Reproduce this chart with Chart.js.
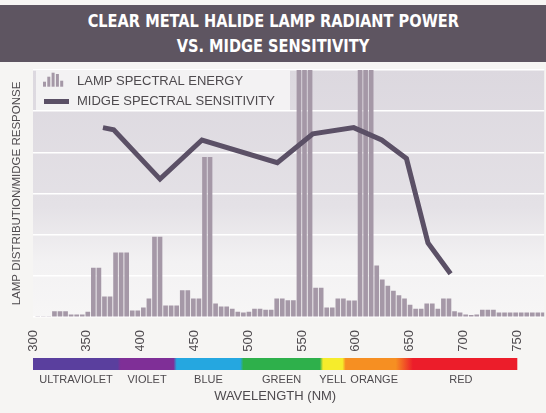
<!DOCTYPE html>
<html>
<head>
<meta charset="utf-8">
<script src="https://cdn.jsdelivr.net/npm/chart.js@4.4.1/dist/chart.umd.min.js"></script>
<style>
  html, body { margin: 0; padding: 0; background: #f6f5f3; }
  body { width: 546px; height: 413px; position: relative; overflow: hidden; }
  .banner {
    position: absolute; left: 0; top: 5px; width: 546px; height: 57px;
    background: #5e5561; color: #fff; text-align: center;
    font-family: 'DejaVu Sans Condensed', 'Liberation Sans Narrow', sans-serif;
    font-weight: bold; font-size: 18px; line-height: 25px;
    padding-top: 3px; box-sizing: border-box;
  }
  .banner span { display: inline-block; transform: scaleX(0.9); white-space: nowrap; }
  .wrap { position: absolute; left: 0; top: 62px; width: 546px; height: 351px; }
</style>
</head>
<body>
<div class="banner"><span>CLEAR METAL HALIDE LAMP RADIANT POWER</span><br><span>VS. MIDGE SENSITIVITY</span></div>
<div class="wrap"><canvas id="spectrumChart"></canvas></div>
<script>
// lamp output, one bar per 5 nm bin starting at 300 nm
const BIN_NM = Array.from({ length: 92 }, (_, i) => 300 + 5 * i);
const LAMP_ENERGY = [
  0, 0, 0, 1.3, 1.3, 1.3, 0.5, 0.5, 0.5, 1.2,
  11.9, 11.9, 4.9, 4.9, 15.6, 15.6, 15.6, 1.5, 1.5, 2.2,
  4.4, 19.4, 19.4, 2.7, 2.7, 2.7, 6.4, 6.4, 4.4, 4.4,
  38.8, 38.8, 3.2, 2.5, 2.5, 1.9, 1.2, 1.0, 1.2, 1.9,
  1.9, 1.7, 1.7, 4.4, 4.4, 4.0, 4.0, 75, 75, 75,
  7.0, 7.0, 2.2, 2.2, 4.4, 4.4, 3.9, 3.9, 75, 75,
  75, 12.4, 9.0, 7.5, 6.3, 5.2, 4.4, 2.9, 1.9, 1.9,
  3.2, 3.2, 1.9, 4.4, 4.4, 1.3, 1.0, 0.5, 0.4, 0.5,
  1.7, 1.7, 1.7, 1.0, 1.0, 1.0, 1.0, 1.0, 1.0, 1.0,
  1.0, 1.0
];

// midge response curve
const MIDGE_NM  = [365, 375, 418, 457, 527, 560, 598, 624, 647, 667, 688];
const MIDGE_VAL = [46, 45.5, 33.5, 43, 37.5, 44.5, 46, 43, 38.5, 18, 10.5];

const TICK_NM = [300, 350, 400, 450, 500, 550, 600, 650, 700, 750];

// colour band under the axis
const BAND_NAMES  = ['ULTRAVIOLET', 'VIOLET', 'BLUE', 'GREEN', 'YELL', 'ORANGE', 'RED'];
const BAND_START  = [300, 380, 432, 494, 568, 589, 645];
const BAND_END    = [380, 432, 494, 568, 589, 645, 750];
const BAND_COLORS = ['#5a3f9e', '#7f2f97', '#25a7e0', '#2eb04b', '#f6ec2b', '#f68f22', '#ec1d2a'];

const BAR_COLOR = '#a598a7';
const LINE_COLOR = '#5b5066';
const TEXT_COLOR = '#4e4a4e';
const SANS = "'Liberation Sans', Arial, sans-serif";

const plotBackground = {
    id: 'plotBackground',
    beforeDraw(chart) {
        const { ctx, chartArea: a } = chart;
        const g = ctx.createLinearGradient(0, a.top, 0, a.bottom);
        g.addColorStop(0, '#dcd8df');
        g.addColorStop(0.55, '#e4e1e6');
        g.addColorStop(0.78, '#f3f2f3');
        g.addColorStop(1, '#f7f6f6');
        ctx.save();
        ctx.fillStyle = g;
        ctx.fillRect(a.left, a.top, a.right - a.left, a.bottom - a.top);
        ctx.restore();
    }
};

const boxLegend = {
    id: 'boxLegend',
    afterDatasetsDraw(chart) {
        const { ctx, chartArea: a } = chart;
        const x = a.left + 3, y = a.top;
        ctx.save();
        ctx.fillStyle = '#f3f2f3';
        ctx.fillRect(x, y, 254, 40);

        // little bar glyph
        const hs = [5, 10, 14, 12.7, 6];
        ctx.fillStyle = BAR_COLOR;
        hs.forEach((h, i) => ctx.fillRect(x + 7 + i * 4.3, y + 16.7 - h, 3, h));

        ctx.strokeStyle = LINE_COLOR;
        ctx.lineWidth = 5;
        ctx.beginPath();
        ctx.moveTo(x + 8, y + 31.5);
        ctx.lineTo(x + 33, y + 31.5);
        ctx.stroke();

        ctx.fillStyle = TEXT_COLOR;
        ctx.font = '13px ' + SANS;
        ctx.textBaseline = 'middle';
        ctx.fillText('LAMP SPECTRAL ENERGY', x + 41, y + 11.5);
        ctx.fillText('MIDGE SPECTRAL SENSITIVITY', x + 41, y + 31.7);
        ctx.restore();
    }
};

const spectrumBand = {
    id: 'spectrumBand',
    afterDraw(chart) {
        const ctx = chart.ctx, nm = chart.scales.nm;
        const lo = BAND_START[0], hi = BAND_END[BAND_END.length - 1];
        const x0 = nm.getPixelForValue(lo), x1 = nm.getPixelForValue(hi);
        const g = ctx.createLinearGradient(x0, 0, x1, 0);
        const pos = v => Math.min(1, Math.max(0, (v - lo) / (hi - lo)));
        BAND_COLORS.forEach((c, i) => {
            const softIn = i === 0 ? 0 : (i === 6 ? 8 : 1.5);
            const softOut = i === 5 ? 8 : 1.5;
            g.addColorStop(pos(BAND_START[i] + softIn), c);
            g.addColorStop(pos(BAND_END[i] - softOut), c);
        });
        ctx.save();
        ctx.fillStyle = g;
        ctx.fillRect(x0, 296, x1 - x0, 12);

        ctx.fillStyle = TEXT_COLOR;
        ctx.font = '11px ' + SANS;
        ctx.textAlign = 'center';
        ctx.textBaseline = 'middle';
        BAND_NAMES.forEach((n, i) => {
            const cx = nm.getPixelForValue((BAND_START[i] + BAND_END[i]) / 2);
            ctx.fillText(n, cx, 318);
        });
        ctx.font = '13px ' + SANS;
        ctx.fillText('WAVELENGTH (NM)', nm.getPixelForValue(525), 334);
        ctx.restore();
    }
};

new Chart(document.getElementById('spectrumChart'), {
    type: 'bar',
    data: {
        labels: BIN_NM,
        datasets: [
            {
                type: 'line',
                label: 'Midge spectral sensitivity',
                data: MIDGE_NM.map((x, i) => ({ x: x, y: MIDGE_VAL[i] })),
                xAxisID: 'nm',
                borderColor: LINE_COLOR,
                borderWidth: 5,
                borderJoinStyle: 'miter',
                borderCapStyle: 'butt',
                pointRadius: 0,
                tension: 0,
                order: 0
            },
            {
                label: 'Lamp spectral energy',
                data: LAMP_ENERGY,
                xAxisID: 'bins',
                backgroundColor: BAR_COLOR,
                borderWidth: 0,
                barThickness: 4,
                order: 1
            }
        ]
    },
    options: {
        responsive: true,
        maintainAspectRatio: false,
        animation: false,
        layout: { padding: { top: 8, bottom: 62, left: 0, right: 0 } },
        plugins: { legend: { display: false }, tooltip: { enabled: false } },
        scales: {
            bins: {
                type: 'category',
                display: false,
                offset: true
            },
            nm: {
                type: 'linear',
                position: 'bottom',
                offset: false,
                min: 300,
                max: 775,
                grid: { display: false, drawTicks: false, offset: false },
                border: { display: false },
                afterBuildTicks: s => { s.ticks = TICK_NM.map(v => ({ value: v })); },
                afterFit: s => { s.height = 34; },
                ticks: {
                    autoSkip: false,
                    minRotation: 90,
                    maxRotation: 90,
                    padding: 13,
                    color: TEXT_COLOR,
                    font: { family: SANS, size: 13 }
                }
            },
            y: {
                min: 0,
                max: 60,
                afterFit: s => { s.width = 33; },
                border: { display: false },
                grid: { color: '#ffffff', lineWidth: 1.5, drawTicks: false },
                ticks: { display: false, stepSize: 10 },
                title: {
                    display: true,
                    text: 'LAMP DISTRIBUTION/MIDGE RESPONSE',
                    color: TEXT_COLOR,
                    font: { family: SANS, size: 11.5 },
                    padding: { top: 10, bottom: 0 }
                }
            }
        }
    },
    plugins: [plotBackground, boxLegend, spectrumBand]
});
</script>
</body>
</html>
